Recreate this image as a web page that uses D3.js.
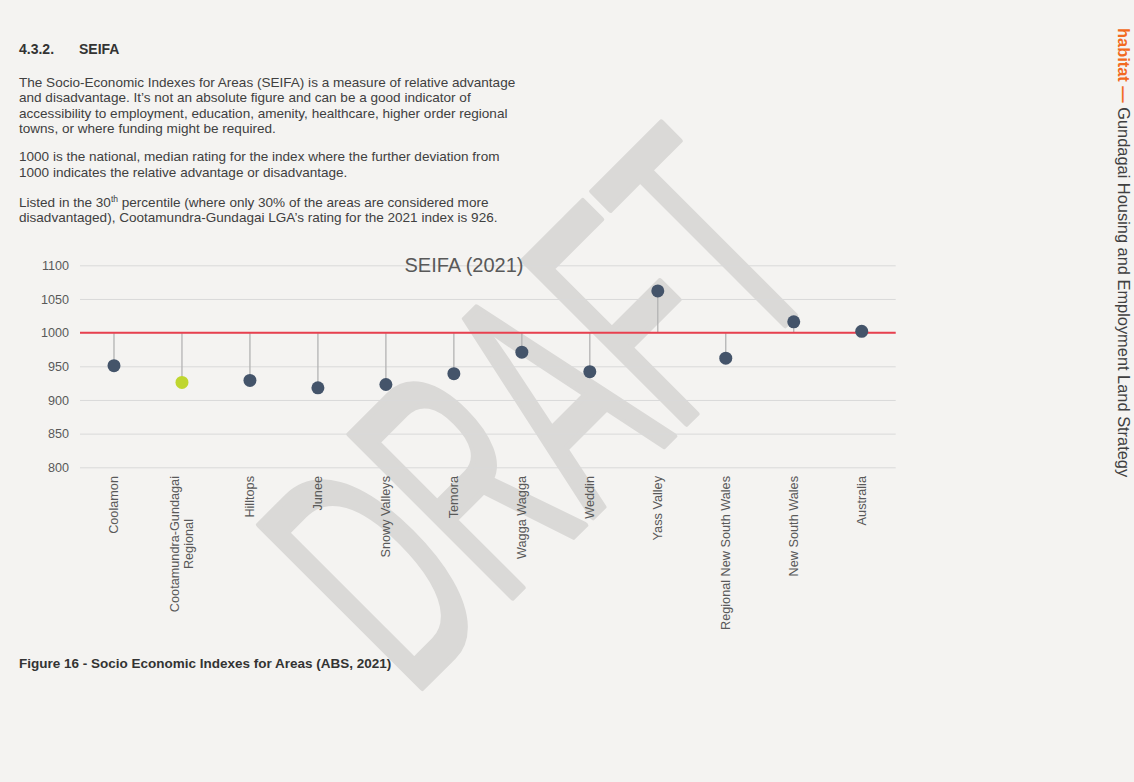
<!DOCTYPE html>
<html>
<head>
<meta charset="utf-8">
<script src="https://cdn.jsdelivr.net/npm/d3@7"></script>
<style>
  html, body { margin: 0; padding: 0; background: #f4f3f1; }
  svg { display: block; }
  text { font-family: "Liberation Sans", Arial, sans-serif; }
</style>
</head>
<body>
<svg id="page" width="1134" height="782"></svg>
<script>
// ---------- data ----------
const categories = ["Coolamon", "Cootamundra-Gundagai Regional", "Hilltops", "Junee", "Snowy Valleys", "Temora", "Wagga Wagga", "Weddin", "Yass Valley", "Regional New South Wales", "New South Wales", "Australia"];
const categoryLabelLines = [["Coolamon"], ["Cootamundra-Gundagai", "Regional"], ["Hilltops"], ["Junee"], ["Snowy Valleys"], ["Temora"], ["Wagga Wagga"], ["Weddin"], ["Yass Valley"], ["Regional New South Wales"], ["New South Wales"], ["Australia"]];
const seifaValues = [951, 926, 929, 918, 923, 939, 971, 942, 1062, 962, 1016, 1002];
const highlightCategory = "Cootamundra-Gundagai Regional";
const referenceValue = 1000;
const yTickValues = [800, 850, 900, 950, 1000, 1050, 1100];
const yDomain = [800, 1100];
const chartTitle = "SEIFA (2021)";

const headingNumber = "4.3.2.";
const headingTitle = "SEIFA";
const paragraph1 = [
  "The Socio-Economic Indexes for Areas (SEIFA) is a measure of relative advantage",
  "and disadvantage. It\u2019s not an absolute figure and can be a good indicator of",
  "accessibility to employment, education, amenity, healthcare, higher order regional",
  "towns, or where funding might be required."
];
const paragraph2 = [
  "1000 is the national, median rating for the index where the further deviation from",
  "1000 indicates the relative advantage or disadvantage."
];
const paragraph3Line1 = ["Listed in the 30", "th", " percentile (where only 30% of the areas are considered more"];
const paragraph3Line2 = "disadvantaged), Cootamundra-Gundagai LGA\u2019s rating for the 2021 index is 926.";
const figureCaption = "Figure 16 - Socio Economic Indexes for Areas (ABS, 2021)";
const sideBrand = "habitat \u2014 ";
const sideTitle = "Gundagai Housing and Employment Land Strategy";
const watermark = "DRAFT";

// ---------- drawing ----------
const svg = d3.select("#page");
const textColor = "#404040";
const bodySize = 13.55;

// watermark (behind everything)
svg.append("text")
  .attr("transform", "translate(411,699) rotate(-45)")
  .attr("font-size", 335)
  .attr("textLength", 590)
  .attr("lengthAdjust", "spacingAndGlyphs")
  .attr("fill", "#dad9d7")
  .attr("stroke", "#dad9d7")
  .attr("stroke-width", 6)
  .attr("stroke-linejoin", "round")
  .text(watermark);

// heading
svg.append("text").attr("x", 19).attr("y", 53.5).attr("font-size", 14).attr("font-weight", "bold").attr("fill", "#333").text(headingNumber);
svg.append("text").attr("x", 79).attr("y", 53.5).attr("font-size", 14).attr("font-weight", "bold").attr("fill", "#333").text(headingTitle);

function para(lines, y0, step) {
  lines.forEach((l, i) => {
    svg.append("text").attr("x", 19).attr("y", y0 + i * step)
      .attr("font-size", bodySize).attr("fill", textColor).text(l);
  });
}
para(paragraph1, 86.7, 15.4);
para(paragraph2, 161.3, 15.4);
const p3 = svg.append("text").attr("x", 19).attr("y", 206.7).attr("font-size", bodySize).attr("fill", textColor);
p3.append("tspan").text(paragraph3Line1[0]);
p3.append("tspan").attr("font-size", 8.5).attr("dy", -5).text(paragraph3Line1[1]);
p3.append("tspan").attr("dy", 5).text(paragraph3Line1[2]);
svg.append("text").attr("x", 19).attr("y", 222).attr("font-size", bodySize).attr("fill", textColor).text(paragraph3Line2);

// caption
svg.append("text").attr("x", 19).attr("y", 668).attr("font-size", 13.5).attr("font-weight", "bold").attr("fill", "#333").text(figureCaption);

// side title
const side = svg.append("text").attr("transform", "translate(1118,28) rotate(90)").attr("font-size", 16.4);
side.append("tspan").attr("fill", "#f26a21").attr("font-weight", "bold").text(sideBrand);
side.append("tspan").attr("fill", textColor).text(sideTitle);

// ---------- chart ----------
const x = d3.scaleBand().domain(categories).range([80, 895.7]);
const y = d3.scaleLinear().domain(yDomain).range([467.3, 265.3]);

const yAxis = d3.axisLeft(y).tickValues(yTickValues).tickSize(-(895.7 - 80)).tickPadding(11).tickFormat(d3.format("d"));
const gy = svg.append("g").attr("transform", "translate(80,0)").call(yAxis);
gy.select(".domain").remove();
gy.selectAll(".tick line").attr("stroke", "#d9d9d9").attr("stroke-width", 1);
gy.selectAll(".tick text").attr("fill", "#595959").attr("font-size", 12.6).attr("font-family", "Liberation Sans, Arial, sans-serif");

// title
svg.append("text").attr("x", 464).attr("y", 272).attr("text-anchor", "middle")
  .attr("font-size", 20).attr("fill", "#595959").text(chartTitle);

const data = categories.map((c, i) => ({ cat: c, value: seifaValues[i], lines: categoryLabelLines[i] }));

// stems
svg.append("g").selectAll("line").data(data).join("line")
  .attr("x1", d => x(d.cat) + x.bandwidth() / 2)
  .attr("x2", d => x(d.cat) + x.bandwidth() / 2)
  .attr("y1", y(referenceValue))
  .attr("y2", d => y(d.value))
  .attr("stroke", "#b3b3b3").attr("stroke-width", 1.3);

// reference line
svg.append("line")
  .attr("x1", x.range()[0]).attr("x2", x.range()[1])
  .attr("y1", y(referenceValue)).attr("y2", y(referenceValue))
  .attr("stroke", "#e8404f").attr("stroke-width", 2);

// dots
svg.append("g").selectAll("circle").data(data).join("circle")
  .attr("cx", d => x(d.cat) + x.bandwidth() / 2)
  .attr("cy", d => y(d.value))
  .attr("r", 6.5)
  .attr("fill", d => d.cat === highlightCategory ? "#bfd62f" : "#44546a");

// x labels
const labelTop = 476;
const labelSize = 12.7;
const gx = svg.append("g");
data.forEach(d => {
  const cx = x(d.cat) + x.bandwidth() / 2;
  const n = d.lines.length;
  const lh = 14;
  if (n === 1) {
    gx.append("text")
      .attr("transform", `translate(${cx + 4.5},${labelTop}) rotate(-90)`)
      .attr("text-anchor", "end").attr("font-size", labelSize).attr("fill", "#595959")
      .text(d.lines[0]);
  } else {
    const tmp = gx.append("text").attr("font-size", labelSize).text(d.lines[0]);
    const w = tmp.node().getComputedTextLength();
    tmp.remove();
    d.lines.forEach((l, i) => {
      const off = (i - (n - 1) / 2) * lh;
      gx.append("text")
        .attr("transform", `translate(${cx + 4.5 + off},${labelTop + w / 2}) rotate(-90)`)
        .attr("text-anchor", "middle").attr("font-size", labelSize).attr("fill", "#595959")
        .text(l);
    });
  }
});
</script>
</body>
</html>
